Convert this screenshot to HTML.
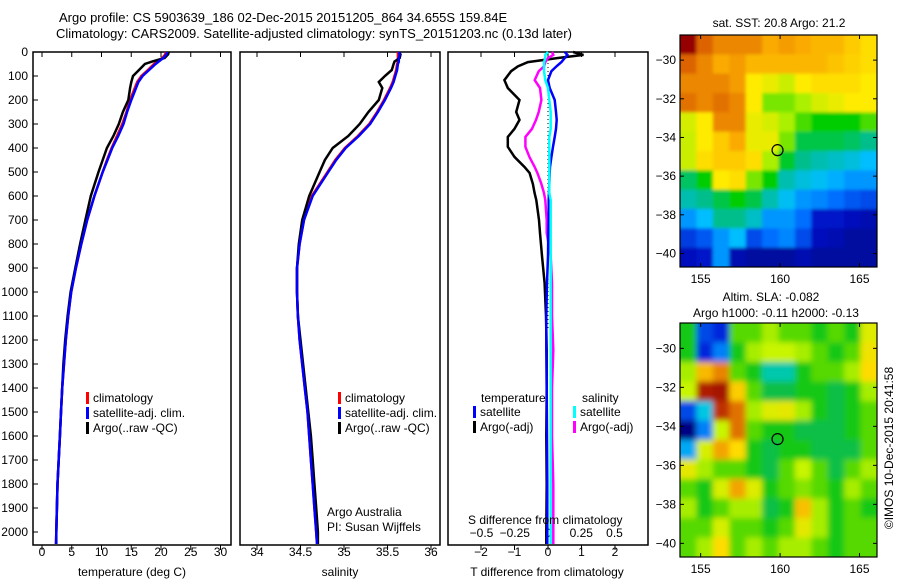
<!DOCTYPE html>
<html><head><meta charset="utf-8">
<style>
html,body{margin:0;padding:0;background:#fff;}
svg{display:block;font-family:"Liberation Sans",sans-serif;}
text{font-size:12px;fill:#000;}
</style></head>
<body>
<svg id="chart" width="900" height="580" viewBox="0 0 900 580" xmlns="http://www.w3.org/2000/svg">
<defs>
<filter id="blurS" x="-5%" y="-5%" width="110%" height="110%"><feGaussianBlur stdDeviation="1.5"/></filter>
<filter id="blurA" x="-5%" y="-5%" width="110%" height="110%"><feGaussianBlur stdDeviation="3"/></filter>
<clipPath id="clipS"><rect x="680" y="35" width="197" height="232"/></clipPath>
<clipPath id="clipA"><rect x="680" y="323" width="197" height="234"/></clipPath>
</defs>
<text x="59" y="22" style="font-size:13px">Argo profile: CS 5903639_186 02-Dec-2015 20151205_864 34.655S 159.84E</text>
<text x="56" y="38" style="font-size:13px">Climatology: CARS2009. Satellite-adjusted climatology: synTS_20151203.nc (0.13d later)</text>
<g id="g"></g>
</svg>
<script>
// ---- data ----
const depths = [0,10,25,40,50,75,100,125,150,200,250,300,350,400,450,500,600,700,800,900,1000,1100,1200,1300,1400,1500,1600,1700,1800,1900,2000,2050];
const tempClim = [20.8,20.7,20.2,19.3,18.8,17.8,16.7,16.0,15.6,14.8,14.2,13.5,12.6,11.7,10.9,10.2,8.8,7.6,6.6,5.7,4.9,4.4,4.0,3.7,3.4,3.2,3.0,2.8,2.6,2.5,2.4,2.35];
const tempSat = [21.0,20.9,20.4,19.6,19.1,18.0,16.9,16.2,15.8,15.0,14.3,13.7,12.8,11.8,11.0,10.2,8.8,7.6,6.6,5.7,4.9,4.4,4.0,3.7,3.4,3.2,3.0,2.8,2.6,2.5,2.4,2.35];
const tempArgo = [21.3,21.2,20.6,18.5,17.3,16.3,15.3,15.0,14.8,14.5,13.6,12.9,12.0,10.9,10.2,9.5,8.2,7.3,6.4,5.6,4.8,4.3,3.9,3.6,3.4,3.2,3.0,2.8,2.6,2.5,2.4,2.4];
const saltClim = [35.62,35.62,35.62,35.62,35.61,35.60,35.58,35.56,35.53,35.46,35.38,35.29,35.16,35.01,34.90,34.81,34.63,34.54,34.49,34.46,34.46,34.47,34.49,34.52,34.55,34.58,34.60,34.62,34.64,34.66,34.68,34.69];
const saltSat = [35.63,35.64,35.63,35.63,35.62,35.61,35.59,35.57,35.54,35.47,35.39,35.30,35.17,35.02,34.91,34.82,34.64,34.54,34.49,34.46,34.46,34.47,34.49,34.52,34.55,34.58,34.60,34.62,34.64,34.66,34.68,34.69];
const saltArgo = [35.63,35.65,35.64,35.58,35.57,35.55,35.47,35.40,35.44,35.40,35.28,35.18,35.05,34.87,34.78,34.72,34.60,34.52,34.48,34.46,34.46,34.47,34.50,34.53,34.56,34.59,34.62,34.64,34.66,34.68,34.70,34.70];
const diffDepths = [0,12,25,42,60,80,117,150,200,250,283,320,354,395,437,479,504,550,588,617,700,754,850,963,1100,1242,1400,1600,1800,2000,2050];
const tDiffArgo = [0.75,1.06,0.3,-0.6,-0.9,-1.1,-1.3,-1.2,-0.85,-0.95,-0.85,-1.0,-1.2,-1.2,-1.0,-0.7,-0.55,-0.45,-0.4,-0.35,-0.27,-0.24,-0.18,-0.1,-0.06,-0.04,-0.04,-0.05,-0.04,-0.05,-0.05];
const tDiffSat = [0.5,0.58,0.5,0.4,0.25,0.1,0,0.05,0.2,0.24,0.26,0.24,0.2,0.15,0.1,0.06,0.05,0.04,0.03,0.02,0.02,0.01,0,-0.03,-0.05,-0.05,-0.04,-0.03,-0.02,-0.02,-0.02];
const sDiffArgo = [0.03,0.04,0.0,-0.02,-0.03,-0.07,-0.1,-0.06,-0.05,-0.07,-0.09,-0.12,-0.17,-0.17,-0.14,-0.1,-0.08,-0.05,-0.03,-0.02,-0.01,-0.01,0.02,0.03,0.03,0.04,0.03,0.03,0.04,0.04,0.04];
const sDiffSat = [0.0,-0.02,-0.02,-0.03,-0.03,-0.03,-0.02,0.0,0.01,0.02,0.02,0.02,0.01,0.01,0.01,0.01,0.01,0.01,0.01,0.02,0.02,0.02,0.02,0.02,0.02,0.02,0.02,0.02,0.02,0.02,0.02];
const depthTicks = [0,100,200,300,400,500,600,700,800,900,1000,1100,1200,1300,1400,1500,1600,1700,1800,1900,2000];
const tempTicks = [0,5,10,15,20,25,30];
const saltTicks = [34,34.5,35,35.5,36];
const tDiffTicks = [-2,-1,0,1,2];
const sDiffTicks = [-0.5,-0.25,0,0.25,0.5];
const lonTicks = [155,160,165];
const latTicks = [-30,-32,-34,-36,-38,-40];
const sstGrid = [
[1.0,.9,.85,.85,.85,.8,.82,.8,.78,.78,.75,.72],
[.9,.85,.8,.82,.78,.78,.78,.78,.78,.76,.74,.72],
[.85,.85,.85,.82,.7,.68,.65,.7,.72,.72,.72,.7],
[.88,.85,.88,.85,.7,.6,.6,.62,.66,.68,.7,.7],
[.66,.7,.85,.85,.68,.66,.62,.58,.55,.55,.55,.58],
[.65,.7,.75,.8,.68,.68,.6,.5,.5,.5,.48,.45],
[.65,.72,.75,.75,.72,.62,.52,.45,.42,.4,.38,.35],
[.48,.55,.7,.72,.6,.55,.42,.38,.36,.33,.3,.3],
[.42,.45,.5,.55,.5,.42,.36,.3,.28,.25,.22,.2],
[.3,.35,.45,.45,.4,.3,.3,.25,.12,.12,.1,.08],
[.18,.22,.3,.35,.2,.25,.28,.2,.1,.08,.05,.05],
[.1,.12,.3,.08,.05,.05,.05,.08,.05,.05,.05,.05]];
const slaGrid = [
[.5,.15,.12,.55,.55,.6,.55,.55,.5,.55,.5,.65],
[.5,.12,.2,.5,.6,.62,.62,.6,.55,.5,.55,.68],
[.6,.75,.82,.55,.5,.36,.36,.5,.55,.55,.6,.7],
[.62,.95,.97,.72,.55,.45,.45,.5,.5,.45,.5,.6],
[.15,.3,.92,.84,.6,.65,.66,.6,.5,.45,.5,.55],
[0,.2,.62,.84,.55,.5,.5,.45,.45,.45,.5,.55],
[.25,.64,.78,.7,.5,.45,.5,.5,.45,.45,.45,.55],
[.66,.6,.55,.55,.5,.45,.55,.62,.55,.45,.55,.6],
[.55,.5,.64,.78,.65,.5,.55,.58,.55,.5,.6,.55],
[.6,.5,.55,.6,.6,.45,.5,.74,.6,.5,.55,.5],
[.55,.55,.64,.55,.55,.5,.55,.66,.6,.5,.55,.55],
[.55,.6,.7,.55,.6,.55,.6,.6,.55,.5,.55,.55]];
const argoLon = 159.84, argoLat = -34.655;

// ---- helpers ----
const NS = "http://www.w3.org/2000/svg";
const G = document.getElementById('g');
function mk(tag, attrs, parent){const e=document.createElementNS(NS,tag);for(const k in attrs)e.setAttribute(k,attrs[k]);(parent||G).appendChild(e);return e;}
function txt(x,y,s,anchor,extra){const t=mk('text',Object.assign({x:x,y:y,'text-anchor':anchor||'start'},extra||{}));t.textContent=s;return t;}
const yD = d => 52 + d*0.24;
const PB = 545;
const fmt = v => String(v).replace('-', '\u2212');

function panel(name, x0, x1, ticks, xs, labelY){
  const r = mk('rect',{x:x0,y:52,width:x1-x0,height:PB-52,fill:'none',stroke:'#000','stroke-width':1.5});
  
  
  ticks.forEach(v=>{
    const x=xs(v);
    const t1=mk('line',{x1:x,x2:x,y1:52,y2:57,stroke:'#000'});
    
    
    const t2=mk('line',{x1:x,x2:x,y1:PB,y2:PB+5,stroke:'#000'});
    
    
    if(labelY){const l=txt(x,labelY,fmt(v),'middle');
      
      }
  });
}
function line(name, xs, vals, ds, color){
  const pts = vals.map((v,i)=>xs(v).toFixed(1)+','+yD(ds[i]).toFixed(1)).join(' ');
  const p = mk('polyline',{points:pts,fill:'none',stroke:color,'stroke-width':2.5,'stroke-linejoin':'miter'});
  
  
}
function legend(name,x,y,color,label){
  const b=mk('rect',{x:x,y:y-10,width:3,height:12,fill:color});
  
  
  const t=txt(x+7,y,label);
  
  
}

// ---- panel 1: temperature ----
const xT = v => 42 + v*5.95;
panel('temperature-panel',33,231,tempTicks,xT,556);
depthTicks.forEach(d=>{
  const l=txt(28,yD(d)+4,String(d),'end');
  
  
  const tk=mk('line',{x1:33,x2:38,y1:yD(d),y2:yD(d),stroke:'#000'});
  
  
});
line('temp-climatology-line',xT,tempClim,depths,'#ff0000');
line('temp-argo-line',xT,tempArgo,depths,'#000000');
line('temp-satellite-line',xT,tempSat,depths,'#0000ff');
legend('legend-climatology-1',86,402,'#ff0000','climatology');
legend('legend-satellite-1',86,417,'#0000ff','satellite-adj. clim.');
legend('legend-argo-1',86,432,'#000','Argo(..raw -QC)');
let t = txt(132,576,'temperature (deg C)','middle');  

// ---- panel 2: salinity ----
const xS = v => 257 + (v-34)*87;
panel('salinity-panel',240,440,saltTicks,xS,556);
line('salt-climatology-line',xS,saltClim,depths,'#ff0000');
line('salt-argo-line',xS,saltArgo,depths,'#000000');
line('salt-satellite-line',xS,saltSat,depths,'#0000ff');
legend('legend-climatology-2',338,402,'#ff0000','climatology');
legend('legend-satellite-2',338,417,'#0000ff','satellite-adj. clim.');
legend('legend-argo-2',338,432,'#000','Argo(..raw -QC)');
t=txt(327,516,'Argo Australia');  
t=txt(327,531,'PI: Susan Wijffels');  
t=txt(340,576,'salinity','middle');  

// ---- panel 3: differences ----
const xTD = v => 548 + v*33.5;
const xSD = v => 548 + v*133;
panel('difference-panel',448,648,tDiffTicks,xTD,556);
sDiffTicks.forEach(v=>{const l=txt(xSD(v),537,fmt(v),'middle');
   });
const zl=mk('line',{x1:548,x2:548,y1:55,y2:330,stroke:'#000','stroke-dasharray':'1,3'});
 
line('t-diff-argo-line',xTD,tDiffArgo,diffDepths,'#000000');
line('s-diff-argo-line',xSD,sDiffArgo,diffDepths,'#ff00ff');
line('t-diff-satellite-line',xTD,tDiffSat,diffDepths,'#0000ff');
line('s-diff-satellite-line',xSD,sDiffSat,diffDepths,'#00ffff');
t=txt(481,402,'temperature');  
t=txt(582,402,'salinity');  
legend('legend-t-satellite',473,416,'#0000ff','satellite');
legend('legend-t-argo',473,431,'#000','Argo(-adj)');
legend('legend-s-satellite',573,416,'#00ffff','satellite');
legend('legend-s-argo',573,431,'#ff00ff','Argo(-adj)');
t=txt(468,524,'S difference from climatology');  
t=txt(547,576,'T difference from climatology','middle');  

// ---- maps ----
function mkmap(stops){return function(v){for(let i=1;i<stops.length;i++){if(v<=stops[i][0]){const a=stops[i-1],b=stops[i];const f=(v-a[0])/(b[0]-a[0]);const c=a[1].map((x,j)=>Math.round(x+(b[1][j]-x)*f));return 'rgb('+c.join(',')+')';}}const l=stops[stops.length-1][1];return 'rgb('+l.join(',')+')';};}
const cmap = mkmap([[0,[0,0,130]],[0.12,[0,20,200]],[0.25,[0,110,255]],[0.35,[0,190,255]],[0.45,[0,190,140]],[0.55,[0,205,0]],[0.62,[170,240,0]],[0.7,[255,235,0]],[0.8,[250,170,0]],[0.9,[220,100,0]],[1,[150,0,0]]]);
const cmap2 = mkmap([[0,[0,0,130]],[0.12,[0,40,220]],[0.22,[0,150,255]],[0.32,[0,210,220]],[0.42,[0,185,100]],[0.5,[20,200,20]],[0.56,[100,220,0]],[0.62,[200,245,0]],[0.7,[255,220,0]],[0.8,[240,150,0]],[0.9,[200,60,0]],[1,[150,0,0]]]);
const lon0=153.7, lon1=166.1, lat0=-28.7, lat1=-40.7;
function drawMap(name, top, bottom, grid, cm, filt, clip){
  const L=680,R=877;
  const xl = lon => L + (lon-lon0)/(lon1-lon0)*(R-L);
  const yl = lat => top + (lat0-lat)/(lat0-lat1)*(bottom-top);
  const nr=grid.length, nc=grid[0].length;
  const outer=mk('g',{'clip-path':'url(#'+clip+')'});
  
  
  const inner=mk('g',{filter:'url(#'+filt+')'},outer);
  grid.forEach((row,i)=>row.forEach((v,j)=>{
    const cw=(R-L)/nc, ch=(bottom-top)/nr;
    let x=L+j*cw, y=top+i*ch, w=cw+0.6, h=ch+0.6;
    if(j===0){x-=10;w+=10;} if(j===nc-1){w+=10;}
    if(i===0){y-=10;h+=10;} if(i===nr-1){h+=10;}
    const c=mk('rect',{x:x.toFixed(2),y:y.toFixed(2),width:w.toFixed(2),height:h.toFixed(2),fill:cm(v)},inner);
    
    
  }));
  const f=mk('rect',{x:L,y:top,width:R-L,height:bottom-top,fill:'none',stroke:'#000','stroke-width':1.2});
  
  
  lonTicks.forEach(v=>{const x=xl(v);
    mk('line',{x1:x,x2:x,y1:top,y2:top+4,stroke:'#000'});
    mk('line',{x1:x,x2:x,y1:bottom,y2:bottom-4,stroke:'#000'});
    const l=txt(x,bottom+16,String(v),'middle');
    
    });
  latTicks.forEach(v=>{const y=yl(v);
    mk('line',{x1:L,x2:L+4,y1:y,y2:y,stroke:'#000'});
    mk('line',{x1:R,x2:R-4,y1:y,y2:y,stroke:'#000'});
    const l=txt(676,y+4,fmt(v),'end');
    
    });
  const c=mk('circle',{cx:xl(argoLon),cy:yl(argoLat),r:5.5,fill:'none',stroke:'#000','stroke-width':1.2});
  
  
}
drawMap('sst-map',35,267,sstGrid,cmap,'blurS','clipS');
drawMap('sla-map',323,557,slaGrid,cmap2,'blurA','clipA');
t=txt(779,27,'sat. SST: 20.8 Argo: 21.2','middle');  
t=txt(771,301,'Altim. SLA: -0.082','middle');  
t=txt(776,317,'Argo h1000: -0.11 h2000: -0.13','middle');  
t=txt(0,0,'©IMOS 10-Dec-2015 20:41:58','middle',{transform:'translate(893,448) rotate(-90)'});  
</script>
</body></html>
